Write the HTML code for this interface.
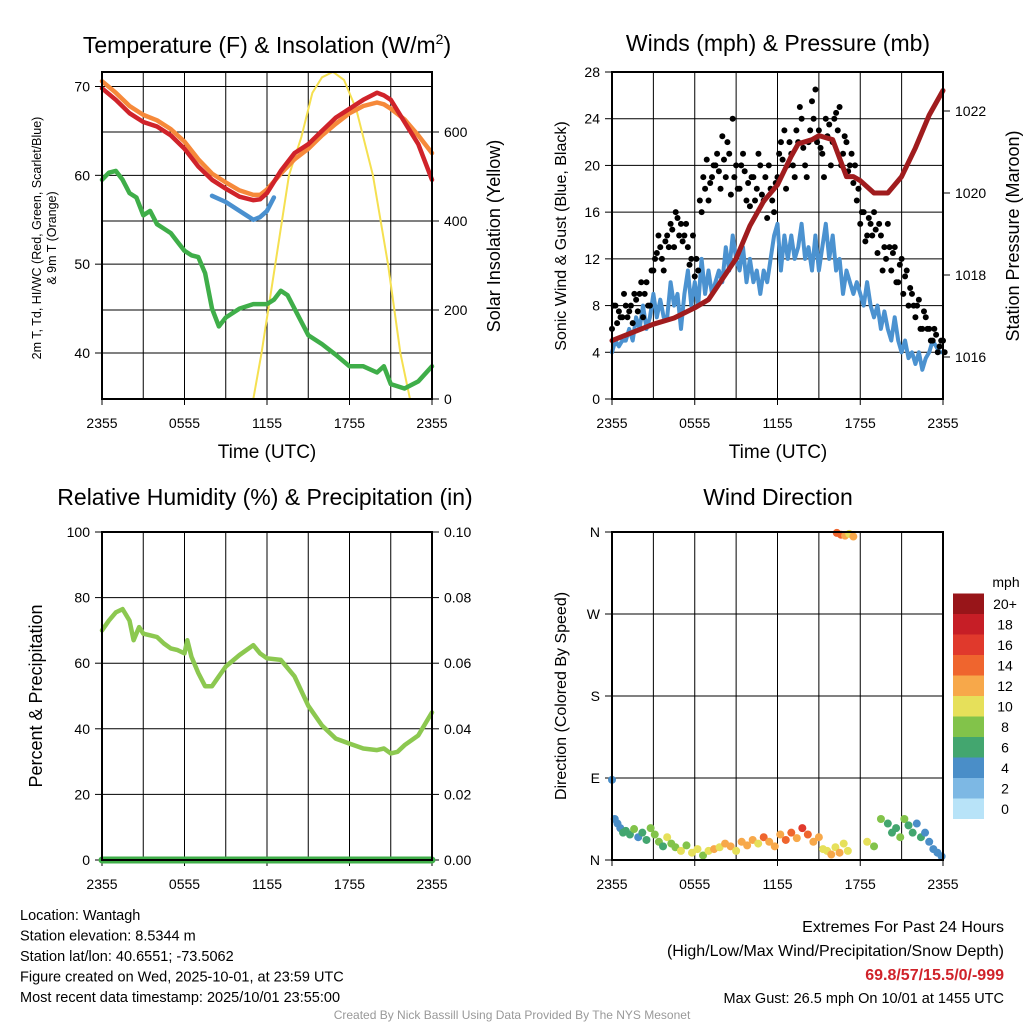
<!DOCTYPE html>
<html><head><meta charset="utf-8"><style>
body{margin:0;background:#fff;}
svg text{font-family:"Liberation Sans",Arial,sans-serif;fill:#000;}
</style></head><body>
<svg id="s" width="1024" height="1024" viewBox="0 0 1024 1024" xmlns="http://www.w3.org/2000/svg">
<rect width="1024" height="1024" fill="#fff"/>
<defs><clipPath id="c1"><rect x="102" y="72" width="330" height="327"/></clipPath></defs>
</svg>
<script>
// ---- data (hours since 2355 UTC) ----
const xTickLabels=["2355","0555","1155","1755","2355"];
const tempT=[0,1,2,3,4,5,6,7,8,9,10,11,11.5,12,13,14,15,16,17,18,19,20,20.5,21,22,23,24];
const tempRed=[69.8,68.5,67,66,65.5,64.5,63,61,59.5,58.5,57.6,57.2,57.3,58,60.5,62.5,63.5,65,66.5,67.5,68.5,69.3,69,68.5,66,63.5,59.5];
const tempOrange=[70.6,69.3,67.8,66.8,66.2,65.2,63.8,61.8,60.2,59.2,58.3,57.8,57.8,58.4,60.2,61.8,63,64.5,65.8,67,67.8,68.2,68,67.5,66.3,64.5,62.5];
const blueT=[8,9,10,10.5,11,11.5,12,12.5];
const heatIdx=[57.7,57,56,55.5,55,55.3,56,57.5];
const dewT=[0,0.5,1,1.5,2,2.5,3,3.5,4,4.5,5,5.5,6,6.5,7,7.5,8,8.5,9,10,11,12,12.5,13,13.5,14,15,16,17,18,19,20,20.5,21,22,23,24];
const dewPt=[59.5,60.3,60.5,59.5,58,57.5,55.5,56,54.5,54,53.5,52.5,51.5,51,50.8,49,45,43,44,45,45.5,45.5,46,47,46.5,45,42,41,39.8,38.5,38.5,37.8,38.5,36.5,36,36.8,38.5];
const solT=[0,11,11.6,12.6,13.6,14.5,15.3,16,16.8,17.6,18.5,19.7,20.8,21.7,22.4,24];
const solar=[0,0,103,303,503,589,688,723,735,717,650,503,303,103,0,0];
// winds (every 15 minutes)
const windSpd=[4,5,4.5,5, 5,6,5,7, 6,8,6,7, 9,7,8.5,7, 7,10,8,9, 6,9,11,8, 10,8,12,9, 11,9,10,11, 10,13,11,14, 12,11,13,10, 12,10,11,9, 11,10,12,14, 15,11,14,12, 14,12,13,15, 12,13,11,14, 11,13,15,12, 14,11,12,9, 11,10,9,10, 9,8,10,8, 7,8,6,7.5, 6,5,7,5, 4,5,3.5,4, 3,4,2.5,3.5, 4,5,4.5,4, 4];
const gust=[6,8,7.5,7, 8,7.5,6.5,8.5, 9,7,10,8, 11,12.5,13,11, 14,15,13,15.5, 15,14,13,12, 10.5,11,16,18, 17,19,20,19.5, 22.5,19,21,24, 20,18,21,17, 16.5,19,18,20, 17,15.5,18,16, 19,22,23,20, 21,19,22,24, 20,22,25.5,26.5, 23,21,24,23.5, 22,24.5,25,21, 22,20,18.5,17, 15,16,14,15, 16,12.5,14,13, 15,11,13,10, 12,10.5,8,9, 7,8.5,6,7, 6,5,5.5,4.5, 5];
const gust2=[8,6.5,7,9, 7,8,9,7.5, 10,9,8,11, 12,14,12,13.5, 13,14.5,16,14, 13.5,15,11.5,14, 12,17,19,20.5, 18.5,20,21,18, 20.5,22,17.5,19, 18,20,19.5,18.5, 19,17,21,17.5, 19,20,17,18.5, 21,20.5,18,22, 20,23,25,21.5, 19,23,24,22, 21.5,19,22.5,20, 24,23,20,22.5, 19.5,21,20,18, 16,13.5,15.5,14, 14.5,15,11,12, 13,12.5,10,11.5, 9,11,9.5,8, 8,6,7.5,6, 5,6,4,5, 4];
const presT=[0,3,4.5,6,7,8,9,10,11,12,13,13.5,14.5,15,16,17,17.5,18,19,20,21,22,23,24];
const pressure=[1016.4,1016.8,1016.95,1017.2,1017.4,1017.9,1018.4,1019.2,1019.8,1020.2,1020.9,1021.2,1021.3,1021.4,1021.3,1020.4,1020.4,1020.3,1020,1020,1020.4,1021.1,1021.9,1022.5];
// RH
const rhT=[0,0.5,1,1.5,2,2.3,2.7,3,3.5,4,4.5,5,5.5,6,6.2,6.5,7,7.5,8,8.5,9,10,11,11.5,12,13,14,15,16,17,18,19,20,20.5,21,21.5,22,23,24];
const rh=[70,73,75.5,76.5,73,67,71,69,68.5,68,66,64.5,64,63,67,62,57,53,53,56,59,62.5,65.5,63,61.5,61,56,47,41,37,35.5,34,33.5,34,32.5,33,35,38,45];
const precip=[0,0];
// wind direction
const dirT=[0,0.2,0.4,0.6,0.8,1,1.3,1.6,1.9,2.2,2.5,2.8,3.1,3.4,3.7,4,4.3,4.6,5,5.4,5.8,6.2,6.6,7,7.4,7.8,8.2,8.6,9,9.4,9.8,10.2,10.6,11,11.4,11.8,12.2,12.6,13,13.4,13.8,14.2,14.6,15,15.3,15.6,15.9,16.2,16.5,16.8,17.1,16.3,16.6,16.9,17.2,17.5,18.5,19,19.5,20,20.3,20.6,20.9,21.2,21.5,21.8,22.1,22.4,22.7,23,23.3,23.6,23.9];
const dirDeg=[88,45,40,35,30,32,28,34,25,30,22,35,28,20,15,25,18,14,10,16,8,12,5,10,12,14,18,15,10,20,16,22,18,25,20,15,28,22,30,24,35,28,20,25,12,10,6,14,8,18,10,359,357,356,358,355,20,15,45,40,30,35,25,45,38,30,40,25,30,20,12,8,4];
const dirSpd=[4,4,3,4,5,6,5,7,4,6,5,8,7,8,6,9,8,7,9,8,10,9,8,10,11,10,12,11,10,11,12,11,10,13,12,11,12,14,13,12,15,13,11,12,10,9,11,10,12,9,10,14,13,12,10,11,9,8,7,6,5,6,7,8,6,5,4,5,4,3,4,3,4];
const speedColors=["#b8e3f8","#7db8e4","#4a8ec8","#43a66f","#82c34a","#e6e05a","#f7a84a","#ef652e","#e0392c","#c61e26","#981519"];
const speedLabels=["0","2","4","6","8","10","12","14","16","18","20+"];
// ---- drawing ----
const S=document.getElementById('s');const NS='http://www.w3.org/2000/svg';
function el(tag,attrs,txt){const e=document.createElementNS(NS,tag);for(const k in attrs)e.setAttribute(k,attrs[k]);if(txt!==undefined)e.textContent=txt;S.appendChild(e);return e;}
function lin(d0,d1,r0,r1){return v=>r0+(v-d0)/(d1-d0)*(r1-r0);}
function line(ts,vs,xf,yf,color,w,name){const p=ts.map((t,i)=>(i?'L':'M')+xf(t).toFixed(1)+','+yf(vs[i]).toFixed(1)).join('');const e=el('path',{d:p,fill:'none',stroke:color,'stroke-width':w,'stroke-linejoin':'round','stroke-linecap':'round'});

return e;}
function frame(x0,y0,x1,y1){
 const xf=lin(0,24,x0,x1);
 for(let h=3;h<24;h+=3){const g=el('line',{x1:xf(h),x2:xf(h),y1:y0,y2:y1,stroke:'#000','stroke-width':1});
 
 }
 xTickLabels.forEach((l,i)=>{const x=xf(i*6);el('line',{x1:x,x2:x,y1:y1,y2:y1+6,stroke:'#000'});
 const t=el('text',{x:x,y:y1+29,'font-size':14,'text-anchor':'middle'},l);
 
 });
 return xf;}
function box(x0,y0,x1,y1){const b=el('rect',{x:x0,y:y0,width:x1-x0,height:y1-y0,fill:'none',stroke:'#000','stroke-width':2});

}
function ytick(x,y,label,side,name){const d=side==='l'?-1:1;el('line',{x1:x,x2:x+d*7,y1:y,y2:y,stroke:'#000'});
const t=el('text',{x:x+d*12,y:y+5,'font-size':14,'text-anchor':side==='l'?'end':'start'},label);

}
function hgrid(x0,x1,y){const g=el('line',{x1:x0,x2:x1,y1:y,y2:y,stroke:'#000','stroke-width':1});

}
function title(x,y,txt,name,size){const t=el('text',{x:x,y:y,'font-size':size||23,'text-anchor':'middle'},txt);

return t;}
function vtitle(x,y,txt,name,size){const t=el('text',{x:x,y:y,'font-size':size||18,'text-anchor':'middle',transform:`rotate(-90 ${x} ${y})`},txt);

return t;}

// Panel 1
{const x0=102,x1=432,y0=72,y1=399;const xf=frame(x0,y0,x1,y1);
 const yf=lin(40,70,353,86.5), yr=lin(0,600,399,132);
 [40,50,60,70].forEach(v=>{hgrid(x0,x1,yf(v));ytick(x0,yf(v),v,'l','temp-tick-label');});
 [0,200,400,600].forEach(v=>{if(v)hgrid(x0,x1,yr(v));ytick(x1,yr(v),v,'r','solar-tick-label');});
 line(solT,solar,xf,yr,'#f5e050',2,'solar-insolation-line').setAttribute('clip-path','url(#c1)');
 line(dewT,dewPt,xf,yf,'#3fae49',4.5,'dewpoint-line');
 line(blueT,heatIdx,xf,yf,'#4a90cf',4.5,'heat-index-line');
 line(tempT,tempOrange,xf,yf,'#f6893a',4.5,'temp-9m-line');
 line(tempT,tempRed,xf,yf,'#d0232a',4.5,'temp-2m-line');
 box(x0,y0,x1,y1);
 const t=title(267,53,'Temperature (F) & Insolation (W/m','panel1-title');const ts=document.createElementNS(NS,'tspan');ts.setAttribute('dy','-9');ts.setAttribute('font-size','14');ts.textContent='2';t.appendChild(ts);const ts2=document.createElementNS(NS,'tspan');ts2.setAttribute('dy','9');ts2.textContent=')';t.appendChild(ts2);
 title(267,458,'Time (UTC)','x-axis-title-1',19);
 vtitle(41,238,'2m T, Td, HI/WC (Red, Green, Scarlet/Blue)','temp-axis-title',12.5);
 vtitle(56,238,'& 9m T (Orange)','temp-axis-title-2',12.5);
 vtitle(500,236,'Solar Insolation (Yellow)','solar-axis-title');}

// Panel 2
{const x0=612,x1=943,y0=72,y1=399;const xf=frame(x0,y0,x1,y1);
 const yf=lin(0,28,399,72), yp=lin(1016,1022,357,111);
 for(let v=0;v<=28;v+=4){if(v&&v<28)hgrid(x0,x1,yf(v));ytick(x0,yf(v),v,'l','wind-tick-label');}
 [1016,1018,1020,1022].forEach(v=>ytick(x1,yp(v),v,'r','pressure-tick-label'));
 const windT=windSpd.map((v,i)=>i*0.25);
 line(windT,windSpd,xf,yf,'#4b92d0',4,'sonic-wind-line');
 [gust,gust2].forEach(arr=>arr.forEach((g,i)=>{const c=el('circle',{cx:xf(i*0.25+(arr===gust2?0.12:0)),cy:yf(g),r:3,fill:'#000'});
 
 }));
 line(presT,pressure,xf,yp,'#a01c1e',5,'pressure-line');
 box(x0,y0,x1,y1);
 title(778,51,'Winds (mph) & Pressure (mb)','panel2-title');
 title(778,458,'Time (UTC)','x-axis-title-2',19);
 vtitle(566,236,'Sonic Wind & Gust (Blue, Black)','wind-axis-title',16);
 vtitle(1019,236,'Station Pressure (Maroon)','pressure-axis-title');}

// Panel 3
{const x0=102,x1=432,y0=532,y1=860;const xf=frame(x0,y0,x1,y1);
 const yf=lin(0,100,860,532);
 for(let v=0;v<=100;v+=20){if(v&&v<100)hgrid(x0,x1,yf(v));ytick(x0,yf(v),v,'l','rh-tick-label');ytick(x1,yf(v),(v/1000).toFixed(2),'r','precip-tick-label');}
 line(rhT,rh,xf,yf,'#8cc850',4.5,'rh-line');
 const pf=lin(0,0.1,860,532);line([0,24],precip,xf,pf,'#3fae49',7,'precip-line');
 box(x0,y0,x1,y1);
 title(265,505,'Relative Humidity (%) & Precipitation (in)','panel3-title');
 vtitle(42,696,'Percent & Precipitation','rh-axis-title');}

// Panel 4
{const x0=612,x1=943,y0=532,y1=860;const xf=frame(x0,y0,x1,y1);
 const yf=lin(0,360,860,532);
 ['N','E','S','W','N'].forEach((l,i)=>{const v=i*90;if(i&&i<4)hgrid(x0,x1,yf(v));ytick(x0,yf(v),l,'l','direction-tick-label');});
 const ci=s=>Math.min(10,Math.max(0,Math.round(s/2)));
 dirT.forEach((t,i)=>{const c=el('circle',{cx:xf(t),cy:yf(dirDeg[i]),r:4,fill:speedColors[ci(dirSpd[i])]});
 
 });
 box(x0,y0,x1,y1);
 title(778,505,'Wind Direction','panel4-title');
 vtitle(566,696,'Direction (Colored By Speed)','direction-axis-title',16);
 const bh=20.5;speedColors.forEach((c,i)=>{const y=819-(i+1)*bh;const r=el('rect',{x:953,y:y,width:31,height:bh,fill:c});
 
 
 const t=el('text',{x:1005,y:y+bh/2+5,'font-size':14,'text-anchor':'middle'},speedLabels[i]);
 
 });
 const u=el('text',{x:1006,y:587,'font-size':14,'text-anchor':'middle'},'mph');
 
 }

// footer text
const left=["Location: Wantagh","Station elevation: 8.5344 m","Station lat/lon: 40.6551; -73.5062","Figure created on Wed, 2025-10-01, at 23:59 UTC","Most recent data timestamp: 2025/10/01 23:55:00"];
left.forEach((l,i)=>{const t=el('text',{x:20,y:920+i*20.5,'font-size':14.5},l);

});
const right=[["Extremes For Past 24 Hours",932,'#000'],["(High/Low/Max Wind/Precipitation/Snow Depth)",956,'#000'],["69.8/57/15.5/0/-999",980,'#d0232a'],["Max Gust: 26.5 mph On 10/01 at 1455 UTC",1003,'#000']];
right.forEach((r,i)=>{const t=el('text',{x:1004,y:r[1],'font-size':i==3?14.5:16,'text-anchor':'end',style:'fill:'+r[2]+(i==2?';font-weight:bold':'')},r[0]);

});
const cr=el('text',{x:512,y:1019,'font-size':12,'text-anchor':'middle',style:'fill:#999'},'Created By Nick Bassill Using Data Provided By The NYS Mesonet');


</script>
</body></html>
